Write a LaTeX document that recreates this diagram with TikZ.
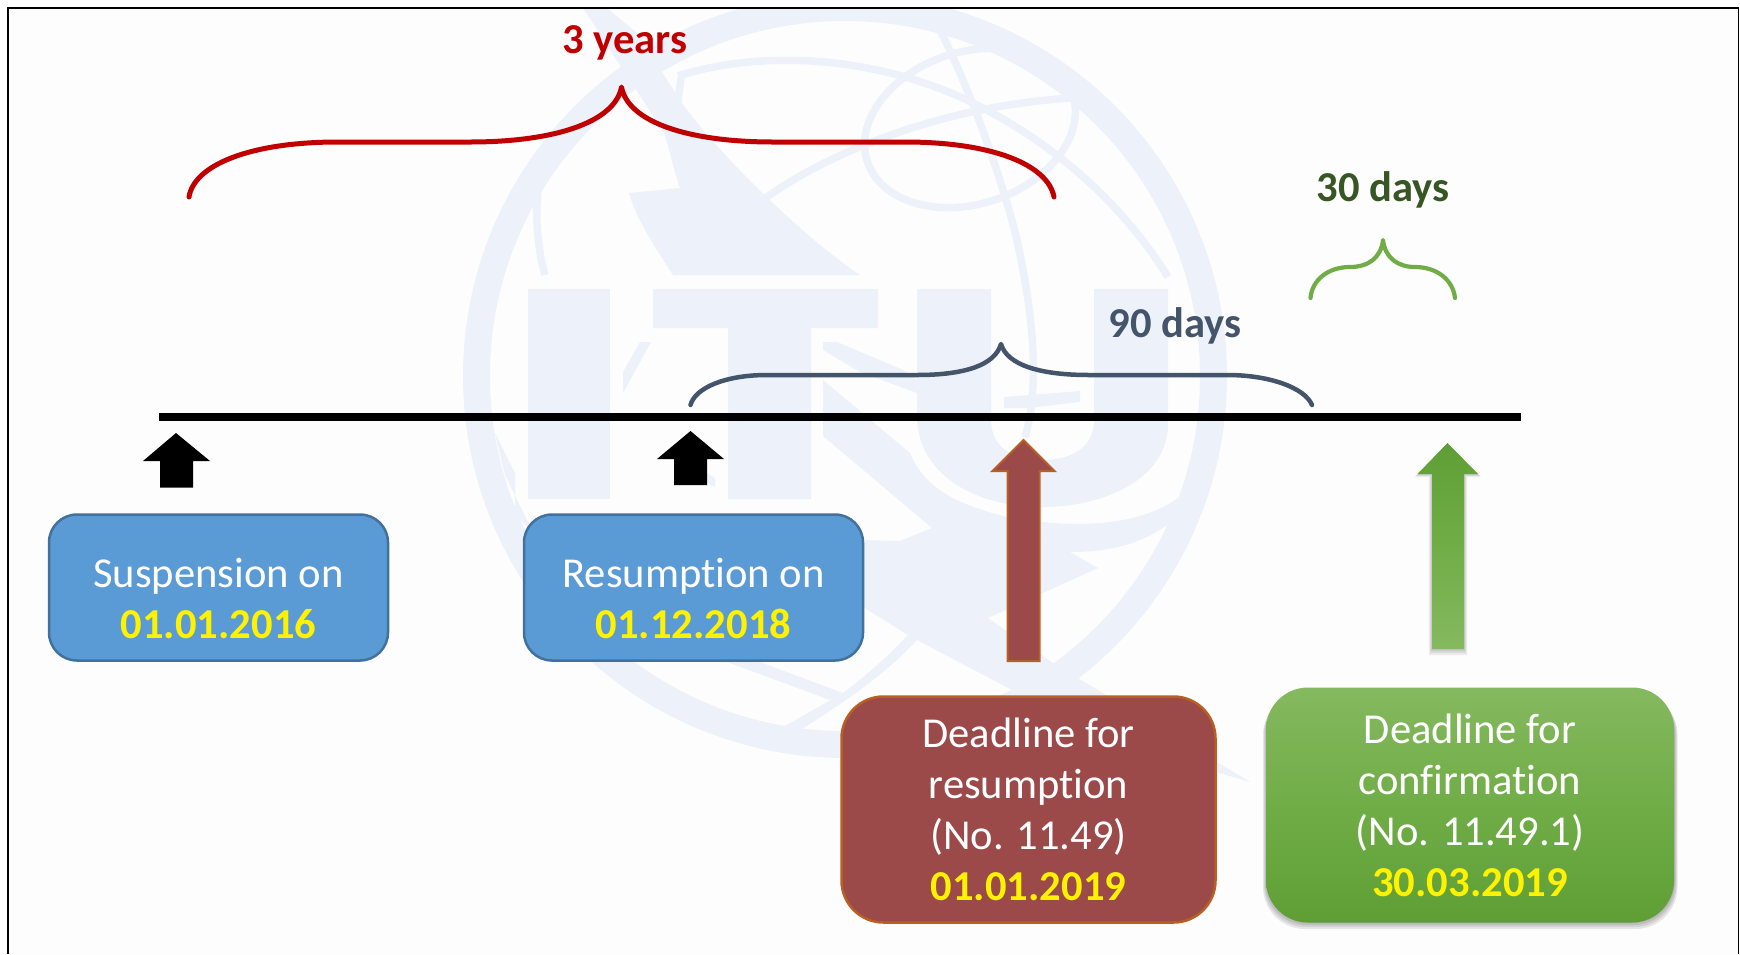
\documentclass[tikz,border=0pt]{standalone}
\usepackage{fontspec}
\setmainfont{Carlito}[Ligatures=NoCommon]
\usetikzlibrary{calc}
\definecolor{wm}{HTML}{EDF2FA}
\definecolor{paper}{HTML}{FDFDFD}
\definecolor{boxblue}{HTML}{5B9BD5}
\definecolor{boxblueline}{HTML}{41719C}
\definecolor{boxred}{HTML}{9B4949}
\definecolor{boxredline}{HTML}{B85F23}
\definecolor{greenhi}{HTML}{85B95F}
\definecolor{greenmid}{HTML}{70AD47}
\definecolor{greenlo}{HTML}{5F9E35}
\definecolor{bracered}{HTML}{C00000}
\definecolor{braceblue}{HTML}{44546A}
\definecolor{labelgreen}{HTML}{375623}
\tikzset{
  bigtext/.style={font=\fontsize{42.6}{51}\selectfont,align=center,text=white,inner sep=0pt},
  spanlabel/.style={font=\fontsize{42.6}{51}\selectfont\bfseries,inner sep=0pt,anchor=base},
  bluebox/.style={bigtext,draw=boxblueline,fill=boxblue,line width=2.5pt,rounded corners=28pt,minimum width=339pt,minimum height=146pt,outer sep=0pt},
  redbox/.style={bigtext,draw=boxredline,fill=boxred,line width=2.5pt,rounded corners=42pt,minimum width=374pt,minimum height=226pt,outer sep=0pt},
  greenbox/.style={bigtext,top color=greenhi,bottom color=greenlo,middle color=greenmid,rounded corners=42pt,minimum width=408pt,minimum height=235pt,outer sep=0pt},
  spanbrace/.style={line cap=round,line join=round},
  wmfill/.style={fill=wm,draw=none},
  wmline/.style={draw=wm,line width=7.5pt},
}
\newcommand{\datetext}[1]{\textcolor{yellow}{\bfseries #1}}
\begin{document}
\begin{tikzpicture}[x=1pt,y=-1pt]
\useasboundingbox (0,0) rectangle (1740,954);
\fill[white] (0,0) rectangle (1740,954);
\fill[paper] (8,8) rectangle (1738.5,954);
% watermark
\begin{scope}
\clip (8,8) rectangle (1738.5,954);
\draw[draw=wm,line width=27pt] (845,376) circle[radius=368.5pt];
% meridian and parallels of the globe
\draw[wmline] (940,30) .. controls (975,100) and (1005,190) .. (1017,240) .. controls (1030,300) and (1042,380) .. (1025,437);
\draw[wmline,rotate around={18:(970,128)}] (970,128) ellipse[x radius=108pt,y radius=76pt];
\draw[wmline] (678,76) .. controls (760,50) and (870,55) .. (967,100) .. controls (1050,140) and (1120,200) .. (1168,277);
\draw[wmline] (763,200) .. controls (830,150) and (950,105) .. (1072,98);
\draw[wmline] (538,190) .. controls (535,220) and (538,250) .. (545,275);
\draw[wmline] (681,77) -- (678,102);
% dish
\fill[wmfill] (583,8) -- (607,8) -- (637,33) -- (680,100) .. controls (710,145) and (800,235) .. (860,275) -- (673,275) .. controls (650,240) and (635,215) .. (629,193) -- (680,188) .. controls (672,165) and (670,150) .. (664,133) -- cycle;
% letters
\fill[wmfill] (528,289) rectangle (610,499);
\fill[wmfill] (653,289) -- (878,289) -- (878,328) -- (811,328) -- (811,499) -- (728,499) -- (728,328) -- (653,328) -- cycle;
\fill[wmfill] (917,289) -- (917,420) .. controls (920,475) and (975,507) .. (1042,507) .. controls (1110,507) and (1168,475) .. (1168,425) -- (1168,289) -- (1094,289) -- (1094,420) .. controls (1094,445) and (1075,460) .. (1042,460) .. controls (1010,460) and (991,445) .. (991,420) -- (991,289) -- cycle;
% small pieces inside the letters
\fill[wmfill] (1004,397) -- (1080,391) -- (1080,402) -- (1028,408) -- (1004,408) -- cycle;
\fill[wmfill] (640,342) -- (651,342) -- (623,393) -- (623,372) -- cycle;
\fill[wmfill] (705,472) -- (715,478) -- (715,487) -- (707,482) -- cycle;
\fill[wmfill] (823,342) -- (837,342) -- (903,370) -- (917,380) -- (917,393) -- (860,372) -- (823,350) -- cycle;
% bolt
\fill[wmfill] (823,380) -- (910,453) .. controls (925,490) and (960,505) .. (1007,517) -- (1070,552) -- (1098,568) -- (988,618) -- (1053,663) -- (1250,782) -- (1216,772) -- (1200,720) -- (1012,690) -- (917,640) -- (908,635) -- (863,607) -- (860,540) -- (900,541) -- (932,528) -- (823,436) -- cycle;
% crescent under the U
\fill[wmfill] (1007,517) .. controls (1080,530) and (1140,525) .. (1178,498) -- (1192,480) -- (1167,525) .. controls (1135,548) and (1100,552) .. (1070,552) -- cycle;
% band inside the ring, lower left
\fill[wmfill] (495,433) -- (515,473) -- (515,515) .. controls (590,590) and (680,640) .. (760,662) -- (843,693) -- (830,700) -- (727,662) .. controls (640,625) and (570,580) .. (527,520) -- (505,475) -- cycle;
\fill[wmfill] (908,635) .. controls (885,660) and (860,680) .. (843,693) -- (785,726) -- (802,729) .. controls (840,705) and (885,675) .. (917,640) -- cycle;
\end{scope}
% frame
\draw[black,line width=1.5pt] (8,954) -- (8,8) -- (1738.5,8) -- (1738.5,954);
% time line
\draw[black,line width=8pt] (159,416.5) -- (1521,416.5);
% black arrows
\fill[black] (176,433) -- (210,461) -- (193,461) -- (193,487.5) -- (160,487.5) -- (160,461) -- (143,461) -- cycle;
\fill[black] (690.5,431) -- (724,459) -- (707,459) -- (707,485) -- (674,485) -- (674,459) -- (657,459) -- cycle;
% red arrow
\draw[draw=boxredline,fill=boxred,line width=2pt,line join=miter] (1023.5,440) -- (1054.5,471) -- (1039.5,471) -- (1039.5,661) -- (1007.5,661) -- (1007.5,471) -- (992.5,471) -- cycle;
% green arrow with soft shadow
\foreach \e in {0,1,2,3}{
  \fill[black,opacity=.07] (1447.5,443+\e) -- (1478+\e,474+\e) -- (1464+\e,474+\e) -- (1464+\e,649+2*\e) -- (1432-\e,649+2*\e) -- (1432-\e,474+\e) -- (1417.5-\e,474+\e) -- cycle;
}
\shade[top color=greenlo,bottom color=greenhi,middle color=greenmid] (1447.5,443) -- (1478,474) -- (1464,474) -- (1464,649) -- (1432,649) -- (1432,474) -- (1417.5,474) -- cycle;
% green box soft shadow
\foreach \e in {0,1,2,3}{
  \fill[black,opacity=.09,rounded corners=42pt] (1266-\e,687+3+\e) rectangle (1674.5+\e,922+1+2*\e);
}
% boxes
\node[bluebox] (suspension) at (218.5,587.5) {\rule{0pt}{2pt}\\[-2pt]Suspension on\\\datetext{01.01.2016}};
\node[bluebox] (resumption) at (693.5,587.5) {\rule{0pt}{2pt}\\[-2pt]Resumption on\\\datetext{01.12.2018}};
\node[redbox] (deadlineres) at (1028.5,809.5) {Deadline for\\resumption\\(No. 11.49)\\\datetext{01.01.2019}};
\node[greenbox] (deadlineconf) at (1470,805) {Deadline for\\confirmation\\(No. 11.49.1)\\\datetext{30.03.2019}};
% braces
\draw[spanbrace,draw=bracered,line width=5pt] (189,197) .. controls (194,165) and (250,142) .. (338,142) -- (470,142) .. controls (555,142) and (615,122) .. (621.5,87) .. controls (628,122) and (688,142) .. (773,142) -- (905,142) .. controls (993,142) and (1048,165) .. (1054,197);
\draw[spanbrace,draw=braceblue,line width=4.5pt] (690.5,405) .. controls (695,388) and (725,375) .. (767,375) -- (917,375) .. controls (965,375) and (995,365) .. (1001,344) .. controls (1007,365) and (1040,375) .. (1089,375) -- (1227,375) .. controls (1270,375) and (1305,388) .. (1312,405);
\draw[spanbrace,draw=greenmid,line width=4.2pt] (1310.5,298) .. controls (1312,280) and (1328,267) .. (1350,267) .. controls (1368,267) and (1381,258) .. (1383,240) .. controls (1385,258) and (1398,267) .. (1415,267) .. controls (1437,267) and (1453,280) .. (1455,298);
% span labels
\node[spanlabel,text=bracered] (threeyears) at (625,53.5) {3 years};
\node[spanlabel,text=braceblue] (ninetydays) at (1175,337.5) {90 days};
\node[spanlabel,text=labelgreen] (thirtydays) at (1383,201.5) {30 days};
\end{tikzpicture}
\end{document}
